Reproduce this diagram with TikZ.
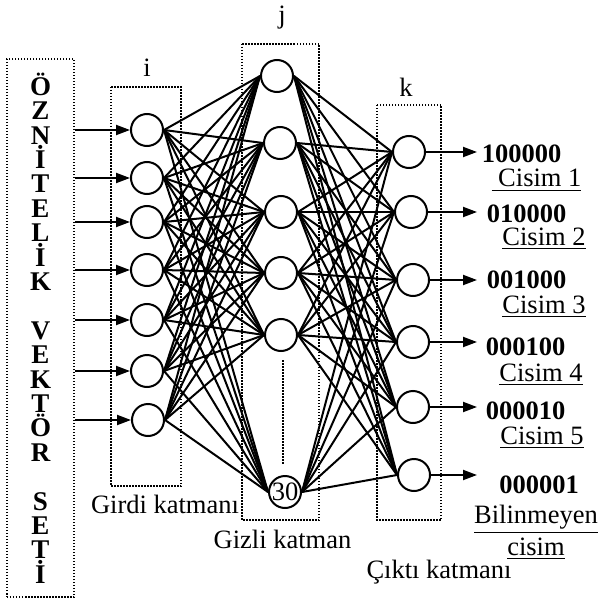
\documentclass[tikz,border=0pt]{standalone}
\usepackage{fontspec}
\setmainfont{Liberation Serif}
\usetikzlibrary{arrows.meta}

\begin{document}
\fontsize{10.6}{12}\selectfont
\begin{tikzpicture}[
    x=0.4pt, y=-0.4pt,
    neuron/.style={circle, draw, thick, minimum size=12.8pt, inner sep=0pt},
    layerbox/.style={draw, line width=0.6pt, dash pattern=on 0.6pt off 0.6pt},
    link/.style={line width=0.8pt},
    arr/.style={thick, -{Triangle[length=5.6pt, width=4pt]}},
    code/.style={font=\bfseries, anchor=base},
    txt/.style={anchor=base}
  ]
  \useasboundingbox (0,0) rectangle (598,599);

  % feature vector set
  \node[layerbox, minimum width=26.8pt, minimum height=215.2pt, align=center,
        font=\bfseries\fontsize{10.8}{9.76}\selectfont] (feat) at (40.5,328)
    {Ö\\Z\\N\\İ\\T\\E\\L\\İ\\K\\[9.76pt]V\\E\\K\\T\\Ö\\R\\[9.76pt]S\\E\\T\\İ};

  % layer boxes
  \draw[layerbox] (111,87) rectangle (181,486);
  \draw[layerbox] (242,44) rectangle (319,520);
  \draw[layerbox] (377,105) rectangle (441,520);
  \draw[layerbox] (283,360) -- (283,465);

  % input layer
  \node[neuron] (i1) at (147,130) {};
  \node[neuron] (i2) at (147,178) {};
  \node[neuron] (i3) at (147,222) {};
  \node[neuron] (i4) at (147,270) {};
  \node[neuron] (i5) at (147,320) {};
  \node[neuron] (i6) at (147,371) {};
  \node[neuron] (i7) at (148,420) {};

  % hidden layer
  \node[neuron] (h1) at (277,76) {};
  \node[neuron] (h2) at (280,143) {};
  \node[neuron] (h3) at (281,212) {};
  \node[neuron] (h4) at (281,273) {};
  \node[neuron] (h5) at (281,335) {};
  \node[neuron] (h6) at (285,492) {30};

  % output layer
  \node[neuron] (o1) at (409,152) {};
  \node[neuron] (o2) at (411,212) {};
  \node[neuron] (o3) at (413,280) {};
  \node[neuron] (o4) at (413,342) {};
  \node[neuron] (o5) at (413,407) {};
  \node[neuron] (o6) at (414,475) {};

  % weights
  \foreach \a in {1,...,7}
    \foreach \b in {1,...,6}
      \draw[link] (i\a.east) -- (h\b.west);
  \foreach \a in {1,...,6}
    \foreach \b in {1,...,6}
      \draw[link] (h\a.east) -- (o\b.west);

  % inputs and outputs
  \foreach \a in {1,...,7}
    \draw[arr] (feat.east |- i\a) -- (i\a.west);
  \coordinate (outx) at (477,0);
  \foreach \b in {1,...,6}
    \draw[arr] (o\b.east) -- (o\b.east -| outx);

  % layer labels
  \node[txt] (li) at (147,77) {i};
  \node[txt] (lj) at (282,24) {j};
  \node[txt] (lk) at (406,97) {k};
  \node[txt] (lin) at (165,513) {Girdi katmanı};
  \node[txt] (lhid) at (282.5,548) {Gizli katman};
  \node[txt] (lout) at (439,578) {Çıktı katmanı};

  % classes
  \node[code] (c1) at (521.5,162) {100000};
  \node[txt] (n1) at (536.5,187) {\underline{~Cisim 1}};
  \node[code] (c2) at (526.5,222) {010000};
  \node[txt] (n2) at (544,245) {\underline{Cisim 2}};
  \node[code] (c3) at (526.5,288) {001000};
  \node[txt] (n3) at (544,313) {\underline{Cisim 3}};
  \node[code] (c4) at (525.5,355) {000100};
  \node[txt] (n4) at (541,381) {\underline{Cisim 4}};
  \node[code] (c5) at (525.5,419) {000010};
  \node[txt] (n5) at (542,444) {\underline{Cisim 5}};
  \node[code] (c6) at (539,493) {000001};
  \node[txt] (n6) at (536,523) {\underline{Bilinmeyen}};
  \node[txt] (n7) at (536,555) {\underline{cisim}};
\end{tikzpicture}
\end{document}
